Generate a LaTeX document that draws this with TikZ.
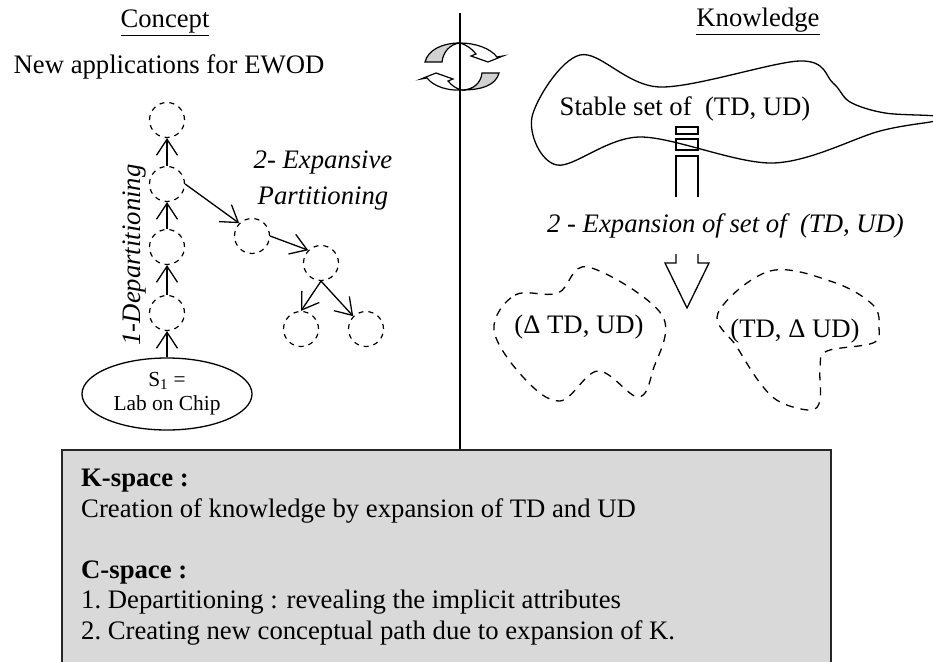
\documentclass[tikz,border=0pt]{standalone}
\usepackage{fontspec}
\setmainfont{Liberation Serif}
\usetikzlibrary{arrows.meta,shapes.geometric}
\tikzset{
  dashcirc/.style={circle,draw,dash pattern=on 5pt off 5pt,line width=1.2pt,minimum size=35pt,inner sep=0pt},
  barb/.style={-{Straight Barb[length=16pt,width=21pt,line width=1.3pt]},line width=1.3pt},
  labeltext/.style={inner sep=0pt,font=\fontsize{26.7}{30.5}\selectfont},
  labelital/.style={labeltext,font=\fontsize{26.7}{36}\itshape},
  cloudline/.style={line width=1.3pt},
  dashcloud/.style={line width=1.3pt,dash pattern=on 8pt off 7pt},
}
\begin{document}
\begin{tikzpicture}[x=1pt,y=-1pt]
  \useasboundingbox (0,0) rectangle (933,661);
  % turning arrows
  \draw [line width=1.2pt,fill=black!18] (425,62) .. controls (428,50) and (442,43) .. (460,43)
      .. controls (450,44) and (443,52) .. (442,62) -- cycle;
  \draw [line width=1.2pt,fill=white] (460,43) .. controls (475,43) and (490,48) .. (497,57) -- (503,56) -- (488,62) -- (471,56) -- (476,54)
      .. controls (472,49) and (467,45) .. (460,43) -- cycle;
  \draw [line width=1.2pt,fill=black!18] (499,73) .. controls (496,85) and (482,90) .. (462,90)
      .. controls (473,90) and (481,83) .. (482,73) -- cycle;
  \draw [line width=1.2pt,fill=white] (462,90) .. controls (449,91) and (434,87) .. (427,78) -- (421,79) -- (436,73) -- (453,79) -- (448,81)
      .. controls (452,86) and (457,89) .. (462,90) -- cycle;
  % rule between the two spaces
  \coordinate (rule top) at (460,13);
  \coordinate (rule bottom) at (460,450);
  \draw [line width=1.7pt] (rule top) -- (rule bottom);
  % headings
  \node [labeltext,anchor=base] (concept) at (165,28) {\underline{Concept}};
  \node [labeltext,anchor=base] (knowledge) at (758,27) {\underline{Knowledge}};
  \node [labeltext,anchor=base] (newapp) at (169,73) {New applications for EWOD};
  % concept tree
  \node [ellipse,draw,line width=1.3pt,minimum width=170pt,minimum height=72pt,inner sep=0pt,align=center,
         font=\fontsize{21.4}{24}\selectfont] (s1) at (167,394) {S\textsubscript{1} =\\Lab on Chip};
  \node [dashcirc] (c1) at (167,313) {};
  \node [dashcirc] (c2) at (167,247) {};
  \node [dashcirc] (c3) at (167,184) {};
  \node [dashcirc] (c4) at (167,120) {};
  \node [dashcirc] (e1) at (252,236) {};
  \node [dashcirc] (e2) at (321,263) {};
  \node [dashcirc] (e3) at (301,329) {};
  \node [dashcirc] (e4) at (366,329) {};
  \draw [barb] (s1) -- (c1);
  \draw [barb] (c1) -- (c2);
  \draw [barb] (c2) -- (c3);
  \draw [barb] (c3) -- (c4);
  \draw [barb] (c3.east) -- (e1.north west);
  \draw [barb] (e1.east) -- (e2.north west);
  \draw [barb] (e2.south) -- (e3.north);
  \draw [barb] (e2.south) -- (e4.north west);
  \node [labelital,rotate=90] (departing) at (135,255) {1-Departitioning};
  \node [labelital,align=center] (expanding) at (323,181) {2- Expansive\\Partitioning};
  % stable set
  \draw [cloudline] plot [smooth cycle,tension=.55] coordinates {(532,117) (580,55) (660,87) (800,61) (833,83) (850,102) (885,113) (935,116) (935,121) (880,131) (773,163) (640,137) (557,165)};
  \node [labeltext,anchor=base] (stable) at (685,115) {Stable set of\ \ (TD, UD)};
  % broken block arrow
  \draw [cloudline] (676,127) rectangle (698,134);
  \draw [cloudline] (676,139) rectangle (698,150);
  \draw [cloudline] (676,197) -- (676,156) -- (698,156) -- (698,197);
  \draw [cloudline] (676,254) -- (676,263) -- (665,263) -- (687,308) -- (709,263) -- (698,263) -- (698,254);
  \node [labelital,anchor=base] (expansion) at (725.5,232) {2 - Expansion of set of\ \ (TD, UD)};
  % new sets
  \draw [dashcloud] plot [smooth cycle,tension=.6] coordinates {(494,330) (515,295) (558,293) (588,267) (662,315) (653,370) (638,397) (598,371) (560,401) (523,377)};
  \draw [dashcloud] plot [smooth cycle,tension=.6] coordinates {(718,313) (770,271) (833,282) (873,305) (879,328) (873,343) (827,351) (820,367) (820,400) (810,410) (780,402) (760,383) (737,347)};
  \node [labeltext,anchor=base] (dtd) at (579,333) {(Δ TD, UD)};
  \node [labeltext,anchor=base] (dud) at (795,337) {(TD, Δ UD)};
  % text panel
  \path [draw=black!85,line width=1.6pt,fill=black!15] (62,450) -- (831,450) -- (831,663) -- (62,663) -- cycle;
  \node [labeltext,anchor=north west,align=left] (panel) at (81,469)
    {\textbf{K-space :}\\Creation of knowledge by expansion of TD and UD\\[30.5pt]\textbf{C-space :}\\1.\ Departitioning : revealing the implicit attributes\\2.\ Creating new conceptual path due to expansion of K.};
\end{tikzpicture}
\end{document}
